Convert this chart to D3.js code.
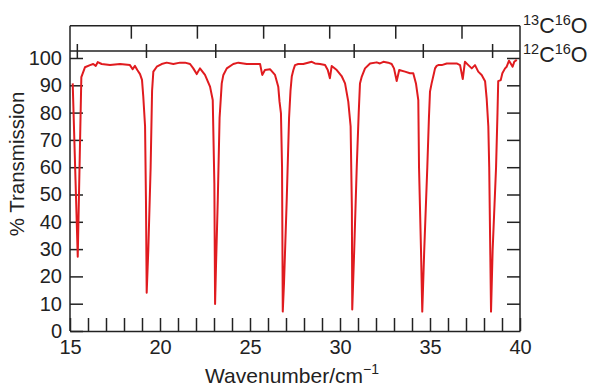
<!DOCTYPE html>
<html><head><meta charset="utf-8">
<script src="https://cdn.jsdelivr.net/npm/d3@7"></script>
<style>
body{margin:0;background:#fff;}
svg{display:block;font-family:"Liberation Sans",Arial,Helvetica,sans-serif;}
.ax path,.ax line{stroke:#222;stroke-width:1.5;}
.ax text{fill:#222;font-size:20px;font-family:"Liberation Sans",Arial,sans-serif;}
</style></head><body>
<script>
// wavenumber (cm^-1) and % transmission
const wavenumber = [15.15,15.43,15.63,15.83,16.11,16.29,16.43,16.54,16.76,17.22,17.78,18.33,18.48,18.61,18.74,18.89,19.0,19.07,19.17,19.22,19.26,19.35,19.48,19.56,19.63,19.82,20.09,20.37,20.74,21.11,21.39,21.67,21.85,22.04,22.22,22.5,22.78,22.93,23.02,23.06,23.11,23.21,23.31,23.43,23.52,23.71,24.07,24.35,24.82,25.56,25.68,25.83,26.11,26.39,26.57,26.64,26.72,26.78,26.82,26.89,27.04,27.17,27.25,27.32,27.41,27.5,27.68,27.96,28.43,28.61,28.89,29.17,29.32,29.44,29.54,29.82,30.09,30.28,30.46,30.59,30.66,30.68,30.79,30.93,31.04,31.11,31.21,31.39,31.67,32.04,32.22,32.41,32.68,32.87,33.0,33.15,33.29,33.61,33.89,34.07,34.22,34.35,34.39,34.5,34.57,34.68,34.85,34.94,35.0,35.09,35.22,35.28,35.37,35.46,35.65,35.93,36.48,36.67,36.82,36.94,37.13,37.32,37.5,37.68,37.87,38.06,38.15,38.24,38.29,38.39,38.48,38.67,38.75,38.79,38.93,39.02,39.17,39.26,39.39,39.5,39.59,39.68,39.82];
const transmission = [90.7,27.2,93,96.6,97.4,97.8,97.1,98.5,97.8,97.4,97.8,97.4,95.9,97.1,95.6,94.1,92,86,75,48,14,29.7,60,88,95,96.8,97.8,98.3,97.8,98.3,98.3,97.8,96.2,94.1,96.2,93.8,89.5,84.6,54,9.9,23.5,48,78,90.7,93.8,96.2,97.8,98.3,97.8,97.8,93.8,95.6,95.9,93.8,89.5,84,79.7,60,7.1,17.6,48,78,88,93.2,95.6,97.4,97.8,97.8,98.6,98.0,97.8,97.4,95.6,92.6,97.1,95.6,93.4,90.7,84,75,45,7.9,29.7,60,80,90.7,93.2,96.2,98.0,98.4,98,98.6,98.3,97.8,96.2,91.6,95.6,95,94.4,94.4,90.7,84.6,60,29.7,7.1,29.7,60,78,87.7,90.7,94.4,96.2,97.1,97.4,97.4,98,98,97.4,92.3,98.6,97.4,96.2,97.4,95,93.8,91.5,85,75,60,7.1,29.7,60,80,91.5,91.9,94.4,96.2,96.8,99,97.8,96.8,98.6,99.3];
// rotational line positions
const c12Lines = [15.38,19.22,23.07,26.91,30.76,34.60,38.45];
const c13Lines = [18.38,22.05,25.73,29.40,33.07,36.75];
const xTickLabels = [15,20,25,30,35,40];
const yTickLabels = [0,10,20,30,40,50,60,70,80,90,100];

const W=592,H=386;
const L=70,R=520,B=331,T100=58,TOP=25.7,MID=51;
const svg=d3.select("body").append("svg").attr("width",W).attr("height",H);
const x=d3.scaleLinear().domain([15,40]).range([L,R]);
const y=d3.scaleLinear().domain([0,100]).range([B,T100]);

// frame
const frame=svg.append("g").attr("stroke","#222").attr("stroke-width",1.5).attr("fill","none");
frame.append("line").attr("x1",L).attr("x2",R).attr("y1",TOP).attr("y2",TOP);
frame.append("line").attr("x1",L).attr("x2",R).attr("y1",MID).attr("y2",MID);
frame.append("line").attr("x1",L).attr("y1",TOP).attr("x2",L).attr("y2",B);
frame.append("line").attr("x1",R).attr("y1",TOP).attr("x2",R).attr("y2",B);

// bottom axis
svg.append("g").attr("class","ax").attr("transform",`translate(0,${B})`)
 .call(d3.axisBottom(x).tickValues(d3.range(15,41)).tickSize(-13).tickSizeOuter(0).tickPadding(9)
   .tickFormat(d=>xTickLabels.includes(d)?d:""));
// left axis
svg.append("g").attr("class","ax").attr("transform",`translate(${L},0)`)
 .call(d3.axisLeft(y).tickValues(yTickLabels).tickSize(-13).tickSizeOuter(0).tickPadding(8))
 .select(".domain").remove();
// right axis
svg.append("g").attr("class","ax").attr("transform",`translate(${R},0)`)
 .call(d3.axisRight(y).tickValues(yTickLabels.filter(d=>d>0)).tickSize(-13).tickSizeOuter(0).tickFormat(""))
 .select(".domain").remove();
// 13C16O ticks
svg.append("g").attr("class","ax").attr("transform",`translate(0,${TOP})`)
 .call(d3.axisTop(x).tickValues(c13Lines).tickSize(-13).tickSizeOuter(0).tickFormat(""))
 .select(".domain").remove();
// 12C16O ticks
svg.append("g").attr("class","ax").attr("transform",`translate(0,${T100})`)
 .call(d3.axisTop(x).tickValues(c12Lines).tickSize(14).tickSizeOuter(0).tickFormat(""))
 .select(".domain").remove();

// curve
const pts=wavenumber.map((w,i)=>[w,transmission[i]]);
svg.append("path").datum(pts).attr("fill","none").attr("stroke","#e01b1f").attr("stroke-width",2)
 .attr("stroke-linejoin","round")
 .attr("d",d3.line().x(d=>x(d[0])).y(d=>y(d[1])));

// labels
function iso(yb,mass){
 const t=svg.append("text").attr("x",523).attr("y",yb).attr("fill","#222").style("font-size","21.5px");
 t.append("tspan").text(mass).style("font-size","14.5px").attr("dy",-8);
 t.append("tspan").text("C").attr("dy",8);
 t.append("tspan").text("16").style("font-size","14.5px").attr("dy",-8);
 t.append("tspan").text("O").attr("dy",8);
}
iso(33,"13");
iso(62,"12");

svg.append("text").attr("transform","translate(24,164) rotate(-90)").attr("text-anchor","middle")
 .attr("fill","#222").style("font-size","20.5px").text("% Transmission");
const xl=svg.append("text").attr("x",292).attr("y",383).attr("text-anchor","middle").attr("fill","#222").style("font-size","21px");
xl.append("tspan").text("Wavenumber/cm");
xl.append("tspan").text("\u22121").style("font-size","14px").attr("dy",-9);
</script>
</body></html>
